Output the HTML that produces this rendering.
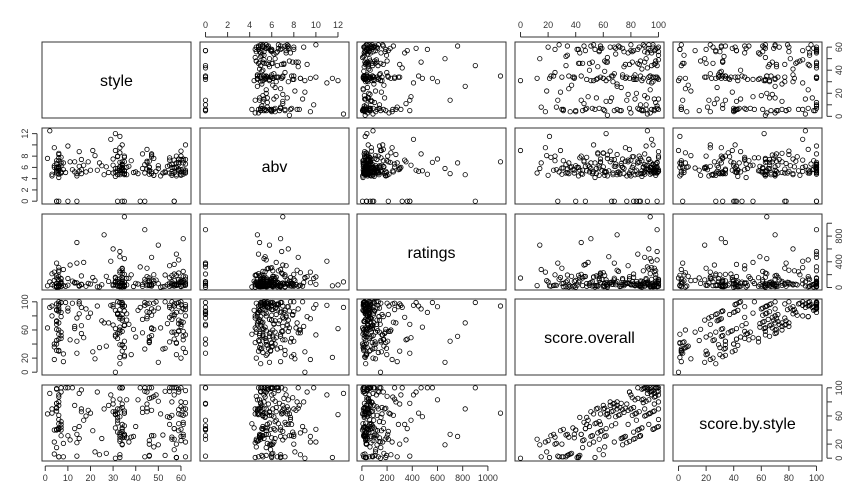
<!DOCTYPE html>
<html><head><meta charset="utf-8"><style>
body{margin:0;background:#fff}
svg{display:block;font-family:"Liberation Sans",sans-serif}
</style></head><body>
<svg id="c" width="864" height="504"></svg>
<script>
const varNames=["style","abv","ratings","score.overall","score.by.style"];
const style=[5,5,5,6,6,6,7,7,4,3,5,6,13,14,15,16,20,24,28,30,31,32,32,33,33,33,34,34,34,34,35,35,35,36,40,44,45,46,47,48,52,55,56,57,58,58,59,60,61,62,
2,4,5,6,6,7,8,10,12,14,16,18,21,25,29,31,32,33,33,34,34,35,35,37,41,43,45,46,47,49,51,53,55,56,57,58,59,60,60,61,62,62,5,6,33,34,46,57,59,61,
4,5,6,7,8,10,13,15,17,19,23,27,30,31,32,33,33,34,34,35,36,39,42,44,45,46,47,48,50,54,55,56,57,58,59,60,61,62,5,6,7,32,33,34,35,45,56,58,60,62,
1,3,5,6,7,9,11,14,16,22,26,30,31,32,33,34,35,35,38,43,44,46,47,48,53,55,56,57,59,60,61,62,5,6,6,7,33,33,34,34,46,47,57,58,59,60,61,15,31,50];
const abv=[5.0,5.5,7.2,4.8,6.0,8.5,5.2,6.8,9.5,4.5,0,5.8,7.0,0,6.2,4.9,5.5,6.8,5.1,7.5,12.0,8.0,5.4,9.5,6.1,5.0,7.0,10.0,5.6,6.4,4.7,5.3,7.8,6.0,5.2,0,6.9,5.5,8.2,4.6,5.0,7.3,6.5,5.9,8.0,4.8,6.6,5.2,7.2,5.5,
12.5,6.0,5.3,7.7,4.2,5.0,6.8,0,5.6,4.9,7.4,5.2,9.0,6.3,11.0,5.8,4.7,8.6,6.1,5.0,0,7.0,5.5,6.2,4.9,8.4,5.7,6.0,7.9,5.3,4.5,5.1,6.4,4.9,0,6.0,5.5,8.0,4.6,5.2,6.6,10.0,6.0,7.2,5.4,5.9,4.8,0,5.7,7.5,
6.3,5.0,8.3,6.8,5.6,9.8,5.2,8.8,6.4,7.0,5.5,6.1,5.0,4.4,5.8,6.9,11.5,6.0,5.4,8.0,4.7,5.1,0,6.5,7.1,5.3,4.9,7.6,5.8,6.2,5.0,4.6,7.3,6.0,5.5,8.9,4.8,5.2,6.7,5.4,7.8,0,6.1,5.6,4.9,9.2,5.3,6.8,7.4,5.0,
7.6,4.8,5.9,0,6.3,5.1,7.0,4.5,5.6,8.1,4.7,6.4,5.2,7.9,5.5,6.6,0,4.9,7.2,5.8,5.0,6.1,8.4,4.6,5.3,7.7,6.0,5.1,6.9,4.8,5.7,7.4,0,5.4,6.2,5.0,8.6,4.7,6.5,5.9,7.1,5.2,6.0,4.5,7.5,5.6,6.8,5.3,9.0,6.3];
const ratings=[20,150,8,60,310,35,90,15,240,45,5,120,70,380,25,180,55,10,95,600,40,130,18,75,260,30,210,50,12,160,85,450,22,140,65,900,28,105,48,200,14,340,58,110,38,520,72,16,170,42,
88,24,190,62,9,135,280,36,100,700,52,20,155,44,410,78,26,230,12,96,66,1100,32,145,54,18,300,82,40,115,6,195,70,28,360,50,125,22,88,250,34,165,60,14,480,92,30,210,46,74,
110,16,270,56,34,140,80,22,390,64,11,175,48,98,30,560,26,120,68,205,40,15,320,86,52,150,24,102,660,44,18,185,58,36,430,76,28,130,20,245,62,94,12,290,42,170,54,32,118,82,
26,215,66,38,140,19,350,72,46,108,820,30,160,56,24,260,84,14,198,50,128,34,470,64,20,152,90,42,225,16,104,58,380,28,172,70,36,136,11,300,52,118,24,190,44,96,760,32,148,60];
const scoreOverall=[72,45,88,30,95,60,52,99,18,80,40,91,65,27,97,55,84,35,70,93,62,100,48,76,89,12,58,96,38,82,67,94,22,74,50,99,86,43,63,98,33,78,90,57,25,85,69,96,46,80,
92,36,61,100,54,79,15,87,98,44,66,90,29,73,95,51,83,60,99,39,77,94,24,68,88,56,97,42,81,100,63,34,92,75,47,98,59,86,20,71,96,53,89,31,64,99,45,82,93,58,
40,97,70,85,26,91,62,100,49,78,94,37,67,88,55,99,21,74,96,44,83,61,92,33,76,98,52,87,14,69,95,57,80,41,99,65,90,28,73,97,48,84,60,93,35,79,100,54,68,89,
63,94,31,86,57,99,46,77,92,19,70,96,53,82,39,98,66,87,25,75,95,50,90,61,100,43,81,97,58,72,34,93,68,88,47,99,56,79,96,30,85,62,94,42,74,100,51,83,0,91];
const scoreByStyle=[72,15,98,2,90,75,32,44,23,70,40,61,75,3,92,70,64,5,75,83,62,70,58,31,84,27,38,41,43,72,67,64,32,29,45,100,66,4,68,88,33,48,100,12,20,100,49,41,51,70,
92,6,71,55,49,94,2,32,100,34,66,60,39,28,90,66,63,5,100,29,77,64,34,23,83,71,77,3,86,90,63,4,100,30,42,100,39,31,25,61,96,23,99,2,59,100,25,27,98,48,
40,67,80,40,21,100,42,45,54,68,94,7,77,43,50,100,1,19,100,34,83,31,100,2,71,100,32,32,19,59,95,27,90,1,94,80,70,2,78,87,48,54,70,48,30,94,80,1,73,79,
63,64,41,41,52,100,26,22,97,9,70,66,63,37,34,100,46,32,30,65,95,20,100,16,95,58,61,42,63,62,34,63,78,43,42,100,36,24,100,20,85,32,100,1,69,100,31,28,0,81];
const tickVals=[[0,10,20,30,40,50,60],[0,2,4,6,8,10,12],[0,200,400,600,800,1000],[0,20,40,60,80,100],[0,20,40,60,80,100]];
const topLabels=[[],[0,2,4,6,8,10,12],[],[0,20,40,60,80,100],[]];
const bottomLabels=[[0,10,20,30,40,50,60],[],[0,200,400,600,800,1000],[],[0,20,40,60,80,100]];
const rightLabels=[[0,20,40,60],[],[0,400,800],[],[0,20,60,100]];
const leftLabels=[[],[0,2,4,6,8,12],[],[0,20,60,100],[]];
const cols=[style,abv,ratings,scoreOverall,scoreByStyle];

const svg=document.getElementById('c');
const NS='http://www.w3.org/2000/svg';
const X0=[42,200,357,515,673],Y0=[42,128,214,299,385],W=149,H=76;
function mk(t,a,p){const e=document.createElementNS(NS,t);for(const k in a)e.setAttribute(k,a[k]);(p||svg).appendChild(e);return e;}
function dom(v){let mn=Math.min(...v),mx=Math.max(...v),r=mx-mn||1;return [mn-0.04*r,mx+0.04*r];}
const doms=cols.map(dom);
function sx(j,v){const d=doms[j];return X0[j]+(v-d[0])/(d[1]-d[0])*W;}
function sy(i,v){const d=doms[i];return Y0[i]+H-(v-d[0])/(d[1]-d[0])*H;}

for(let i=0;i<5;i++)for(let j=0;j<5;j++){
  const g=mk('g',{});
  
  
  mk('rect',{x:X0[j],y:Y0[i],width:W,height:H,fill:'none',stroke:'#333','stroke-width':1},g);
  if(i===j){
    const t=mk('text',{x:X0[j]+W/2,y:Y0[i]+H/2+6,'text-anchor':'middle','font-size':16,fill:'#000'},g);
    t.textContent=varNames[i];
    
    
    continue;
  }
  const xs=cols[j],ys=cols[i];
  const n=Math.min(xs.length,ys.length);
  for(let k=0;k<n;k++){
    const c=mk('circle',{cx:sx(j,xs[k]).toFixed(1),cy:sy(i,ys[k]).toFixed(1),r:2.2,fill:'none',stroke:'#000','stroke-width':0.8},g);
    
    
  }
}
function axis(side,idx,labels){
  const g=mk('g',{});
  
  
  const tv=tickVals[idx].filter(v=>v>=doms[idx][0]&&v<=doms[idx][1]);
  const lv=labels.filter(v=>v>=doms[idx][0]&&v<=doms[idx][1]);
  if(side==='top'||side==='bottom'){
    const y=side==='top'?Y0[0]:Y0[4]+H, d=side==='top'?-5:5;
    mk('line',{x1:sx(idx,tv[0]),x2:sx(idx,tv[tv.length-1]),y1:y+d,y2:y+d,stroke:'#333'},g);
    tv.forEach(v=>{const x=sx(idx,v);mk('line',{x1:x,x2:x,y1:y+d,y2:y+2*d,stroke:'#333'},g);});
    lv.forEach(v=>{const x=sx(idx,v);
      const t=mk('text',{x:x,y:side==='top'?y-14:y+20,'text-anchor':'middle','font-size':9,fill:'#333'},g);t.textContent=v;});
  } else {
    const x=side==='left'?X0[0]:X0[4]+W, d=side==='left'?-5:5;
    mk('line',{y1:sy(idx,tv[0]),y2:sy(idx,tv[tv.length-1]),x1:x+d,x2:x+d,stroke:'#333'},g);
    tv.forEach(v=>{const y=sy(idx,v);mk('line',{y1:y,y2:y,x1:x+d,x2:x+2*d,stroke:'#333'},g);});
    lv.forEach(v=>{const y=sy(idx,v);
      const tx=side==='left'?x-14:x+20;
      const t=mk('text',{x:tx,y:y,'text-anchor':'middle','font-size':9,fill:'#333',transform:`rotate(-90 ${tx} ${y})`},g);t.textContent=v;});
  }
}
axis('top',1,topLabels[1]);axis('top',3,topLabels[3]);
axis('bottom',0,bottomLabels[0]);axis('bottom',2,bottomLabels[2]);axis('bottom',4,bottomLabels[4]);
axis('right',0,rightLabels[0]);axis('right',2,rightLabels[2]);axis('right',4,rightLabels[4]);
axis('left',1,leftLabels[1]);axis('left',3,leftLabels[3]);
</script>
</body></html>
